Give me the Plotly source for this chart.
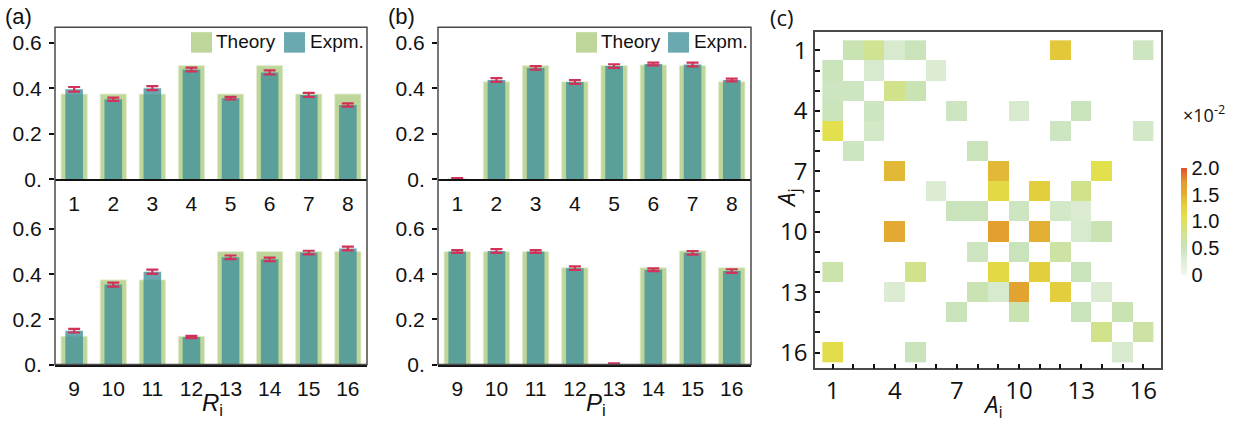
import plotly.graph_objects as go

W, H = 1239, 436


def px(x):
    return x / W


def py(y):
    return 1 - y / H


# ---------------- data ----------------
cats_top = [1, 2, 3, 4, 5, 6, 7, 8]
cats_bot = [9, 10, 11, 12, 13, 14, 15, 16]

theory_R_top = [0.375, 0.375, 0.375, 0.5, 0.375, 0.5, 0.375, 0.375]
expm_R_top = [0.396, 0.352, 0.401, 0.483, 0.357, 0.470, 0.371, 0.327]
err_R_top = [0.010, 0.007, 0.009, 0.008, 0.006, 0.009, 0.009, 0.007]

theory_R_bot = [0.125, 0.375, 0.375, 0.125, 0.5, 0.5, 0.5, 0.5]
expm_R_bot = [0.150, 0.354, 0.411, 0.122, 0.475, 0.466, 0.496, 0.514]
err_R_bot = [0.008, 0.009, 0.009, 0.005, 0.008, 0.008, 0.008, 0.008]

theory_P_top = [0.0, 0.4286, 0.5, 0.4286, 0.5, 0.503, 0.5, 0.4286]
expm_P_top = [0.003, 0.437, 0.490, 0.428, 0.498, 0.507, 0.505, 0.437]
err_P_top = [0.002, 0.008, 0.008, 0.008, 0.008, 0.006, 0.008, 0.006]

theory_P_bot = [0.5, 0.5, 0.5, 0.4286, 0.0, 0.4286, 0.503, 0.4286]
expm_P_bot = [0.501, 0.503, 0.501, 0.427, 0.003, 0.420, 0.495, 0.414]
err_P_bot = [0.006, 0.008, 0.006, 0.008, 0.002, 0.006, 0.008, 0.008]

y_tickvals = [0, 0.2, 0.4, 0.6]
y_ticktext = ["0.", "0.2", "0.4", "0.6"]

# heatmap (x10^-2); None = empty cell
modes = list(range(1, 17))
_ = None
hm_rows = [
    [_, 0.55, 0.75, 0.35, 0.5, _, _, _, _, _, _, 1.35, _, _, _, 0.45],
    [0.5, _, 0.35, _, _, 0.3, _, _, _, _, _, _, _, _, _, _],
    [0.45, 0.45, _, 0.8, 0.55, _, _, _, _, _, _, _, _, _, _, _],
    [0.5, _, 0.45, _, _, _, 0.45, _, _, 0.35, _, _, 0.5, _, _, _],
    [1.1, _, 0.4, _, _, _, _, _, _, _, _, 0.45, _, _, _, 0.4],
    [_, 0.45, _, _, _, _, _, 0.5, _, _, _, _, _, _, _, _],
    [_, _, _, 1.45, _, _, _, _, 1.45, _, _, _, _, 1.1, _, _],
    [_, _, _, _, _, 0.3, _, _, 1.2, _, 1.3, _, 0.8, _, _, _],
    [_, _, _, _, _, _, 0.5, 0.5, _, 0.45, _, 0.4, 0.3, _, _, _],
    [_, _, _, 1.55, _, _, _, _, 1.7, _, 1.5, _, 0.35, 0.55, _, _],
    [_, _, _, _, _, _, _, 0.45, _, 0.5, _, 0.65, _, _, _, _],
    [0.6, _, _, _, 0.8, _, _, _, 1.2, _, 1.3, _, 0.5, _, _, _],
    [_, _, _, 0.3, _, _, _, 0.55, 0.35, 1.65, _, 1.3, _, 0.3, _, _],
    [_, _, _, _, _, _, 0.5, _, _, 0.55, _, _, 0.5, _, 0.55, _],
    [_, _, _, _, _, _, _, _, _, _, _, _, _, 0.8, _, 0.65],
    [1.15, _, _, _, 0.5, _, _, _, _, _, _, _, _, _, 0.35, _],
]
cb_tickvals = [0, 0.5, 1.0, 1.5, 2.0]
cb_ticktext = ["0", "0.5", "1.0", "1.5", "2.0"]
hm_tickvals = [1, 4, 7, 10, 13, 16]
hm_ticktext = ["1", "4", "7", "10", "13", "16"]

# ---------------- styles ----------------
THEORY_C = "rgb(191,214,155)"
EXPM_C = "rgba(62,143,152,0.78)"
ERR_C = "#d0335a"
FONT_AB = "Arial"
FONT_C = "Open Sans"
BLACK = "#111111"
FRAME = "#4a4a4a"

fig = go.Figure()

panels = [
    ("x", "y", theory_R_top, expm_R_top, err_R_top),
    ("x2", "y2", theory_R_bot, expm_R_bot, err_R_bot),
    ("x3", "y3", theory_P_top, expm_P_top, err_P_top),
    ("x4", "y4", theory_P_bot, expm_P_bot, err_P_bot),
]
for xa, ya, th, ex, er in panels:
    pos = list(range(1, 9))
    fig.add_trace(go.Bar(x=pos, y=th, width=0.67,
                         marker=dict(color=THEORY_C, line=dict(width=1, color="rgba(225,236,205,0.9)")),
                         xaxis=xa, yaxis=ya, showlegend=False, name="Theory"))
    fig.add_trace(go.Bar(x=pos, y=ex, width=0.45, marker=dict(color=EXPM_C, line=dict(width=0)),
                         error_y=dict(type="data", array=er, color=ERR_C, thickness=2.2, width=6),
                         xaxis=xa, yaxis=ya, showlegend=False, name="Expm."))

# invisible minor-tick helper axis for heatmap: all integer ticks drawn via minor ticks
fig.add_trace(go.Heatmap(
    x=modes, y=modes, z=hm_rows, zmin=0, zmax=2, xaxis="x5", yaxis="y5",
    hoverongaps=False,
    colorscale=[
        [0.0, "#f2f7ee"], [0.15, "#dbecd3"], [0.25, "#c9e3bb"], [0.4, "#d1e38a"],
        [0.55, "#e3e04e"], [0.65, "#e3cf3e"], [0.74, "#e2b534"], [0.76, "#e3ab33"],
        [0.86, "#e39f2f"], [1.0, "#e0502e"],
    ],
    colorbar=dict(
        x=px(1180.5), xanchor="left", y=py(227), yanchor="middle",
        lenmode="pixels", len=107, thickness=6, thicknessmode="pixels",
        outlinewidth=0, xpad=0, ypad=0, ticks="",
        tickvals=cb_tickvals, ticktext=cb_ticktext,
        tickfont=dict(family=FONT_AB, size=20, color=BLACK),
    ),
))

layout = dict(
    width=W, height=H, margin=dict(l=0, r=0, t=0, b=0),
    paper_bgcolor="white", plot_bgcolor="rgba(0,0,0,0)",
    barmode="overlay", showlegend=False,
    font=dict(family=FONT_AB, color=BLACK),
)

x_common = dict(range=[0.51, 8.49], tickmode="array", tickvals=list(range(1, 9)),
                showgrid=False, zeroline=False, showline=True, linecolor=BLACK, linewidth=2,
                ticks="outside", ticklen=4, tickcolor="rgba(0,0,0,0)",
                tickfont=dict(family=FONT_AB, size=21, color=BLACK), fixedrange=True)
y_common = dict(tickmode="array", tickvals=y_tickvals, ticktext=y_ticktext,
                showgrid=False, zeroline=False, showline=False,
                ticks="outside", ticklen=5, tickwidth=2, tickcolor=BLACK,
                ticklabelstandoff=3,
                tickfont=dict(family=FONT_AB, size=21, color=BLACK), fixedrange=True)

top_dom = [py(184), py(28)]
bot_dom = [py(374), py(220)]
top_rng = [0, 0.6 + 16 / (140 / 0.6)]
bot_rng = [0, (374 - 220) / (139 / 0.6)]
a_dom = [px(55), px(367)]
b_dom = [px(438), px(751)]

layout["xaxis"] = dict(x_common, domain=a_dom, anchor="y", ticktext=[str(c) for c in cats_top])
layout["yaxis"] = dict(y_common, domain=top_dom, anchor="x", range=top_rng)
layout["xaxis2"] = dict(x_common, domain=a_dom, anchor="y2", ticktext=[str(c) for c in cats_bot])
layout["yaxis2"] = dict(y_common, domain=bot_dom, anchor="x2", range=bot_rng)
layout["xaxis3"] = dict(x_common, domain=b_dom, anchor="y3", ticktext=[str(c) for c in cats_top])
layout["yaxis3"] = dict(y_common, domain=top_dom, anchor="x3", range=top_rng)
layout["xaxis4"] = dict(x_common, domain=b_dom, anchor="y4", ticktext=[str(c) for c in cats_bot])
layout["yaxis4"] = dict(y_common, domain=bot_dom, anchor="x4", range=bot_rng)

hm_axis = dict(tickmode="array", tickvals=hm_tickvals, ticktext=hm_ticktext,
               showgrid=False, zeroline=False, showline=True, mirror=True,
               linecolor=FRAME, linewidth=1.5, ticks="inside", ticklen=5, tickwidth=2,
               tickcolor=BLACK, tickfont=dict(family=FONT_C, size=24, color=BLACK),
               minor=dict(tickmode="linear", tick0=1, dtick=1, ticks="inside", ticklen=5,
                          tickwidth=2, tickcolor=BLACK, showgrid=False),
               fixedrange=True)
layout["xaxis5"] = dict(hm_axis, domain=[px(815), px(1161)], anchor="y5", range=[0.144, 16.856])
layout["yaxis5"] = dict(hm_axis, domain=[py(378), py(33)], anchor="x5", range=[16.79, 0.095],
                        ticklabelstandoff=1)

shapes = []
annotations = []
# frames of panels (a) and (b)
for x0, x1 in [(55, 367), (438, 751)]:
    shapes.append(dict(type="rect", xref="paper", yref="paper", x0=px(x0), x1=px(x1), y0=py(374), y1=py(28),
                       line=dict(color=FRAME, width=1.5), fillcolor="rgba(0,0,0,0)", layer="above"))

# legends (drawn as swatches + text)
for sx_t, tx_t, sx_e, tx_e in [(191, 214, 284, 308), (576, 599, 668, 692)]:
    shapes.append(dict(type="rect", xref="paper", yref="paper", x0=px(sx_t), x1=px(sx_t + 21), y0=py(54), y1=py(33),
                       line=dict(width=0), fillcolor=THEORY_C))
    shapes.append(dict(type="rect", xref="paper", yref="paper", x0=px(sx_e), x1=px(sx_e + 21), y0=py(54), y1=py(33),
                       line=dict(width=0), fillcolor="rgb(106,169,176)"))
    annotations.append(dict(text="Theory", x=px(tx_t), y=py(43), xref="paper", yref="paper", xanchor="left",
                            yanchor="middle", showarrow=False, font=dict(family=FONT_AB, size=19, color=BLACK)))
    annotations.append(dict(text="Expm.", x=px(tx_e), y=py(43), xref="paper", yref="paper", xanchor="left",
                            yanchor="middle", showarrow=False, font=dict(family=FONT_AB, size=19, color=BLACK)))

# panel labels
for lab, x, fam in [("(a)", 3, FONT_AB), ("(b)", 386, FONT_AB), ("(c)", 768, FONT_C)]:
    annotations.append(dict(text=lab, x=px(x), y=py(17), xref="paper", yref="paper", xanchor="left",
                            yanchor="middle", showarrow=False, font=dict(family=fam, size=22, color=BLACK)))

# axis titles
annotations.append(dict(text="<i>R</i><sub>i</sub>", x=px(212), y=py(415), xref="paper", yref="paper",
                        xanchor="center", yanchor="middle", showarrow=False,
                        font=dict(family=FONT_AB, size=24, color=BLACK)))
annotations.append(dict(text="<i>P</i><sub>i</sub>", x=px(596), y=py(415), xref="paper", yref="paper",
                        xanchor="center", yanchor="middle", showarrow=False,
                        font=dict(family=FONT_AB, size=24, color=BLACK)))
annotations.append(dict(text="<i>A</i><sub>i</sub>", x=px(993), y=py(415), xref="paper", yref="paper",
                        xanchor="center", yanchor="middle", showarrow=False,
                        font=dict(family=FONT_C, size=24, color=BLACK)))
annotations.append(dict(text="<i>A</i><sub>j</sub>", x=px(787), y=py(203), xref="paper", yref="paper",
                        xanchor="center", yanchor="middle", showarrow=False, textangle=-90,
                        font=dict(family=FONT_C, size=24, color=BLACK)))
annotations.append(dict(text="×10<sup>-2</sup>", x=px(1181), y=py(117), xref="paper", yref="paper",
                        xanchor="left", yanchor="middle", showarrow=False,
                        font=dict(family=FONT_C, size=18, color=BLACK)))

layout["shapes"] = shapes
layout["annotations"] = annotations
fig.update_layout(**layout)

fig.write_html("out.html")
